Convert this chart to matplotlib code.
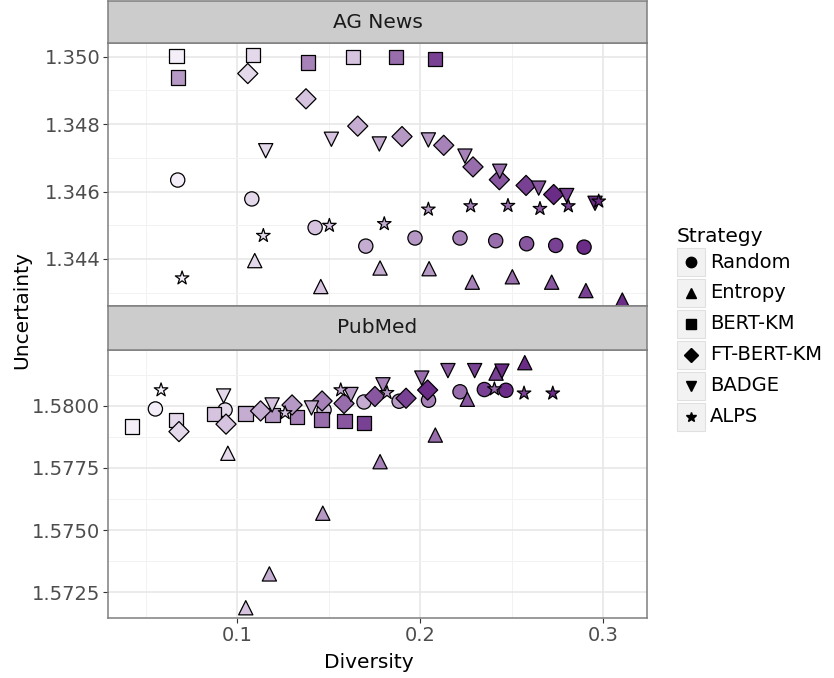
import matplotlib
matplotlib.use("Agg")
import matplotlib.pyplot as plt
from matplotlib.colors import LinearSegmentedColormap, Normalize
from matplotlib.patches import Rectangle
from matplotlib.ticker import FixedLocator, FormatStrFormatter

# strategies and their point shapes
strategies = ["Random", "Entropy", "BERT-KM", "FT-BERT-KM", "BADGE", "ALPS"]
shapes = {"Random": "o", "Entropy": "^", "BERT-KM": "s",
          "FT-BERT-KM": "D", "BADGE": "v", "ALPS": "*"}

# AG News: diversity / uncertainty per AL step
ag_x = {
    "Random": [0.0674, 0.1079, 0.1425, 0.1702, 0.1971, 0.2217, 0.2412, 0.2581, 0.2740, 0.2895],
    "Entropy": [0.1095, 0.1456, 0.1780, 0.2048, 0.2284, 0.2503, 0.2718, 0.2905, 0.3104],
    "BERT-KM": [0.0667, 0.0676, 0.1087, 0.1386, 0.1631, 0.1867, 0.2079],
    "FT-BERT-KM": [0.1057, 0.1375, 0.1658, 0.1900, 0.2128, 0.2288, 0.2432, 0.2578, 0.2729],
    "BADGE": [0.1155, 0.1514, 0.1776, 0.2044, 0.2244, 0.2434, 0.2647, 0.2800, 0.2955],
    "ALPS": [0.0698, 0.1142, 0.1503, 0.1803, 0.2044, 0.2275, 0.2479, 0.2654, 0.2809, 0.2975],
}
ag_y = {
    "Random": [1.34634, 1.34578, 1.34493, 1.34438, 1.34462, 1.34462, 1.34454, 1.34445, 1.34440, 1.34435],
    "Entropy": [1.34395, 1.34318, 1.34373, 1.34371, 1.34331, 1.34347, 1.34331, 1.34306, 1.34278],
    "BERT-KM": [1.35003, 1.34938, 1.35004, 1.34983, 1.34999, 1.34998, 1.34994],
    "FT-BERT-KM": [1.34950, 1.34875, 1.34794, 1.34763, 1.34737, 1.34673, 1.34635, 1.34618, 1.34591],
    "BADGE": [1.34721, 1.34755, 1.34741, 1.34753, 1.34705, 1.34660, 1.34610, 1.34588, 1.34565],
    "ALPS": [1.34343, 1.34469, 1.34499, 1.34504, 1.34547, 1.34557, 1.34558, 1.34549, 1.34557, 1.34571],
}
ag_step = {
    "Random": [1, 2, 3, 4, 5, 6, 7, 8, 9, 10],
    "Entropy": [2, 3, 4, 5, 6, 7, 8, 9, 10],
    "BERT-KM": [1, 5, 2, 6, 3, 7, 9],
    "FT-BERT-KM": [2, 3, 4, 5, 6, 7, 8, 9, 10],
    "BADGE": [2, 3, 4, 5, 6, 7, 8, 9, 10],
    "ALPS": [1, 2, 3, 4, 5, 6, 7, 8, 9, 10],
}

# PubMed
pm_x = {
    "Random": [0.0552, 0.0933, 0.1474, 0.1692, 0.1884, 0.2045, 0.2217, 0.2350, 0.2468],
    "Entropy": [0.0948, 0.1046, 0.1175, 0.1467, 0.1780, 0.2082, 0.2257, 0.2414, 0.2571],
    "BERT-KM": [0.0425, 0.0665, 0.0871, 0.1045, 0.1192, 0.1326, 0.1460, 0.1586, 0.1693],
    "FT-BERT-KM": [0.0681, 0.0938, 0.1127, 0.1299, 0.1463, 0.1583, 0.1752, 0.1922, 0.2040],
    "BADGE": [0.0925, 0.1190, 0.1405, 0.1621, 0.1796, 0.2008, 0.2151, 0.2297, 0.2446],
    "ALPS": [0.0583, 0.1261, 0.1565, 0.1818, 0.2405, 0.2567, 0.2724],
}
pm_y = {
    "Random": [1.57987, 1.57983, 1.57983, 1.58015, 1.58018, 1.58022, 1.58056, 1.58065, 1.58062],
    "Entropy": [1.57809, 1.57188, 1.57324, 1.57568, 1.57775, 1.57882, 1.58026, 1.58131, 1.58173],
    "BERT-KM": [1.57916, 1.57944, 1.57968, 1.57969, 1.57963, 1.57955, 1.57945, 1.57940, 1.57932],
    "FT-BERT-KM": [1.57896, 1.57926, 1.57979, 1.58003, 1.58019, 1.58009, 1.58037, 1.58030, 1.58063],
    "BADGE": [1.58039, 1.58003, 1.57991, 1.58045, 1.58084, 1.58111, 1.58141, 1.58141, 1.58139],
    "ALPS": [1.58063, 1.57971, 1.58063, 1.58052, 1.58067, 1.58050, 1.58050],
}
pm_step = {
    "Random": [1, 2, 3, 4, 5, 6, 7, 9, 10],
    "Entropy": [2, 3, 4, 5, 6, 7, 8, 9, 10],
    "BERT-KM": [1, 2, 3, 4, 5, 6, 7, 8, 9],
    "FT-BERT-KM": [2, 3, 4, 5, 6, 7, 8, 9, 10],
    "BADGE": [2, 3, 4, 5, 6, 7, 8, 9, 10],
    "ALPS": [1, 3, 4, 5, 7, 9, 10],
}

W, H = 834, 678
cmap = LinearSegmentedColormap.from_list("step", ["#f3eef8", "#6a2c86"])
norm = Normalize(1, 10)

fig = plt.figure(figsize=(W / 100, H / 100), dpi=100)


def box(l, t, r, b):
    return [l / W, 1 - b / H, (r - l) / W, (b - t) / H]


def style_panel(ax, ylim, major, minor, fmt):
    ax.set_xlim(0.0293, 0.3239)
    ax.set_ylim(*ylim)
    ax.xaxis.set_major_locator(FixedLocator([0.1, 0.2, 0.3]))
    ax.xaxis.set_minor_locator(FixedLocator([0.05, 0.15, 0.25]))
    ax.yaxis.set_major_locator(FixedLocator(major))
    ax.yaxis.set_minor_locator(FixedLocator(minor))
    ax.yaxis.set_major_formatter(FormatStrFormatter(fmt))
    ax.grid(which="major", color="#e6e6e6", lw=1.1)
    ax.grid(which="minor", color="#f2f2f2", lw=0.7)
    ax.set_axisbelow(True)
    ax.tick_params(which="major", length=3.5, width=0.8, color="#333333",
                   labelsize=14, labelcolor="#4d4d4d", pad=2)
    ax.tick_params(which="minor", length=0)
    for s in ax.spines.values():
        s.set_color("#7f7f7f")
        s.set_linewidth(1.1)


def strip(l, t, r, b, label):
    sa = fig.add_axes(box(l, t, r, b))
    sa.set_facecolor("#cccccc")
    sa.set_xticks([])
    sa.set_yticks([])
    for s in sa.spines.values():
        s.set_color("#7f7f7f")
        s.set_linewidth(1.1)
    sa.text(0.5, 0.5, label, ha="center", va="center", fontsize=14.5, color="#1a1a1a",
            transform=sa.transAxes)


def draw(ax, xs, ys, steps):
    for name in strategies:
        ax.scatter(xs[name], ys[name], c=steps[name], cmap=cmap, norm=norm,
                   marker=shapes[name], s=105, edgecolors="black", linewidths=0.9)


ax1 = fig.add_axes(box(108, 43, 647, 306))
ax2 = fig.add_axes(box(108, 350, 647, 618))
draw(ax1, ag_x, ag_y, ag_step)
draw(ax2, pm_x, pm_y, pm_step)

style_panel(ax1, (1.342603, 1.350406), [1.344, 1.346, 1.348, 1.350],
            [1.343, 1.345, 1.347, 1.349], "%.3f")
style_panel(ax2, (1.571468, 1.582239), [1.5725, 1.5750, 1.5775, 1.5800],
            [1.57375, 1.57625, 1.57875, 1.58125], "%.4f")
ax1.tick_params(axis="x", which="both", length=0, labelbottom=False)
ax2.set_xticklabels(["0.1", "0.2", "0.3"])

strip(108, 1, 647, 43, "AG News")
strip(108, 306, 647, 350, "PubMed")

fig.text(369 / W, 1 - 662 / H, "Diversity", ha="center", va="center", fontsize=14.5)
fig.text(22 / W, 1 - 310 / H, "Uncertainty", ha="center", va="center",
         rotation=90, fontsize=14.5)

# legend for the shape scale
lax = fig.add_axes([0, 0, 1, 1], facecolor="none")
lax.set_xlim(0, W)
lax.set_ylim(H, 0)
lax.axis("off")
lax.text(677, 236, "Strategy", ha="left", va="center", fontsize=14.5)
for i, name in enumerate(strategies):
    yc = 262 + 30.9 * i
    lax.add_patch(Rectangle((677, yc - 14), 28, 28, facecolor="#f2f2f2",
                            edgecolor="#e0e0e0", lw=0.8))
    lax.plot(691, yc, marker=shapes[name], ms=7.5, color="black", ls="none")
    lax.text(710, yc, name, ha="left", va="center", fontsize=14)

fig.savefig("out.png", dpi=100)
